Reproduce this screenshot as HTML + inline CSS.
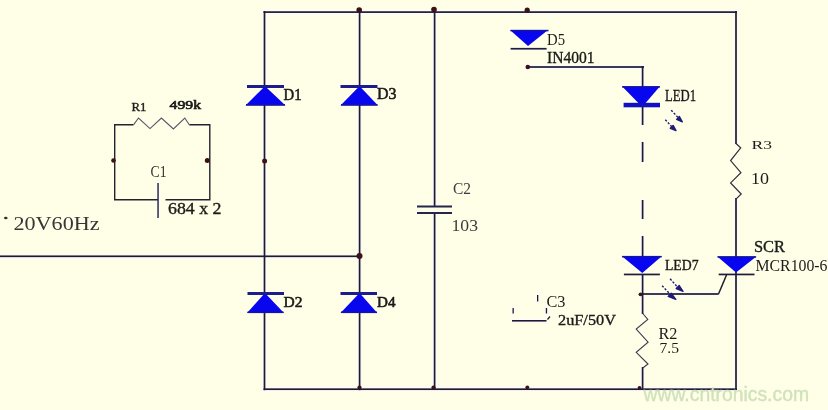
<!DOCTYPE html>
<html>
<head>
<meta charset="utf-8">
<style>
html,body{margin:0;padding:0;background:#fffee6;}
body{width:828px;height:410px;overflow:hidden;position:relative;}
svg{position:absolute;left:0;top:0;display:block;will-change:transform;}
text{font-family:"Liberation Serif",serif;fill:#1c1c1c;}
.hv{stroke:#161616;stroke-width:0.35;}
.w{fill:#1f1a34;}
.tw{stroke:#24222e;stroke-width:1.4;fill:none;}
.zz{stroke:#55556a;stroke-width:1.1;fill:none;}
.dio{fill:#0806ee;}
.bar{fill:#1c1c8c;}
.dot{fill:#3a1218;}
.wm{font-family:"Liberation Sans",sans-serif;fill:#d0e2bb;stroke:#d0e2bb;stroke-width:0.35;}
</style>
</head>
<body>
<svg width="828" height="410" viewBox="0 0 828 410">
<!-- halos -->
<g fill="#fdfcf4">
<rect x="261.8" y="9.4" width="476.9" height="5.4"/>
<rect x="261.8" y="386.5" width="476.9" height="5.4"/>
<rect x="261.8" y="9.3" width="5.4" height="382.6"/>
<rect x="356.9" y="9.3" width="5.4" height="382.6"/>
<rect x="431.9" y="9.3" width="5.4" height="198.4"/>
<rect x="431.9" y="211.3" width="5.4" height="180.4"/>
<rect x="733.3" y="9.3" width="5.4" height="136.4"/>
<rect x="733.3" y="196.3" width="5.4" height="195.4"/>
<rect x="-1.7" y="253.6" width="363.4" height="5.4"/>
<rect x="525.3" y="64.3" width="120.4" height="5.4"/>
<rect x="639.9" y="64.3" width="5.4" height="24.4"/>
<rect x="639.9" y="104.3" width="5.4" height="22.4"/>
<rect x="639.9" y="140.3" width="5.4" height="23.4"/>
<rect x="639.9" y="198.3" width="5.4" height="22.4"/>
<rect x="639.9" y="234.3" width="5.4" height="23.4"/>
<rect x="639.9" y="272.3" width="5.4" height="43.4"/>
<rect x="639.9" y="365.3" width="5.4" height="26.4"/>
<rect x="639.9" y="291.3" width="80.4" height="5.4"/>
<rect x="510.3" y="318.3" width="37.9" height="5.0"/>
<rect x="510.8" y="306.3" width="4.7" height="8.9"/>
<rect x="535.3" y="293.3" width="4.7" height="9.9"/>
<rect x="544.1" y="306.3" width="4.7" height="8.9"/>
</g>
<!-- main wires -->
<rect class="w" x="263.5" y="11.25" width="473.5" height="1.7"/>
<rect class="w" x="263.5" y="388.35" width="473.5" height="1.7"/>
<rect class="w" x="263.65" y="11" width="1.7" height="379.2"/>
<rect class="w" x="358.75" y="11" width="1.7" height="379.2"/>
<rect class="w" x="433.75" y="11" width="1.7" height="195"/>
<rect class="w" x="433.75" y="213" width="1.7" height="177"/>
<rect class="w" x="735.15" y="11" width="1.7" height="133"/>
<rect class="w" x="735.15" y="198" width="1.7" height="192"/>
<rect class="w" x="0" y="255.45" width="360" height="1.7"/>
<!-- D5 wire -->
<rect class="w" x="527" y="66.15" width="117" height="1.7"/>
<rect class="w" x="641.75" y="66" width="1.7" height="21"/>
<!-- dashed LED chain -->
<rect class="w" x="641.75" y="106" width="1.7" height="19"/>
<rect class="w" x="641.75" y="142" width="1.7" height="20"/>
<rect class="w" x="641.75" y="200" width="1.7" height="19"/>
<rect class="w" x="641.75" y="236" width="1.7" height="20"/>
<!-- below LED7 -->
<rect class="w" x="641.75" y="274" width="1.7" height="40"/>
<rect class="w" x="641.75" y="367" width="1.7" height="23"/>
<!-- gate -->
<rect class="w" x="641.6" y="293.15" width="77" height="1.7"/>
<path d="M718.5 294 L726.5 275" stroke="#1e1a30" stroke-width="1.5" fill="none"/>

<!-- C2 plates -->
<rect x="417" y="205.5" width="35" height="2" fill="#27254f"/>
<rect x="417" y="212" width="35" height="2" fill="#27254f"/>

<!-- R1/C1 loop -->
<path class="tw" d="M114.7 160 L114.7 124.8 L133.5 124.8 M189.3 124.8 L209.8 124.8 L209.8 199.8 L165.5 199.8 M158 199.8 L114.7 199.8 L114.7 160"/>
<path class="zz" d="M133.5 124.8 L138.5 118 L150 128.6 L161.4 118 L173.4 129 L184.8 118 L189.3 124.8"/>
<rect x="157.3" y="183" width="1.5" height="35" fill="#2c2c60"/>

<!-- R3 -->
<path d="M736 143.5 L740.7 147.8 L730.6 160.6 L740.9 172.6 L730.6 182.9 L741.2 194 L736 199.1" stroke="#2e2c40" stroke-width="1.2" fill="none"/>
<!-- R2 -->
<path d="M642.8 313.5 L647.8 319.5 L636.2 329 L648.1 342.2 L636.2 352.4 L648 364 L642.8 368" stroke="#3a3850" stroke-width="1.1" fill="none"/>

<!-- Diodes D1 D3 (up) -->
<rect class="bar" x="247" y="85" width="37" height="3"/>
<path class="dio" d="M263.6 87.5 L266.4 87.5 L285.5 105.5 L245.5 105.5 Z"/>
<rect class="bar" x="340.5" y="85" width="37" height="3"/>
<path class="dio" d="M358.1 87.5 L360.9 87.5 L378 105.5 L340.5 105.5 Z"/>
<!-- D2 D4 -->
<rect class="bar" x="247.5" y="292" width="36.5" height="3"/>
<path class="dio" d="M263.6 294.5 L266.4 294.5 L284 313 L247 313 Z"/>
<rect class="bar" x="340.5" y="292" width="36.5" height="3"/>
<path class="dio" d="M358.1 294.5 L360.9 294.5 L377.3 313 L340.5 313 Z"/>
<!-- D5 (down) -->
<path class="dio" d="M510 30 L548 30 L528 46 Z"/>
<rect x="510.6" y="47.9" width="36" height="1.7" fill="#1e1c4a"/>
<!-- LED1 -->
<path class="dio" d="M622 86.3 L660 86.3 L645.6 103 L638.4 103 Z"/>
<rect x="623.6" y="102.8" width="36.4" height="4.5" fill="#1010c0"/>
<!-- LED7 -->
<path class="dio" d="M621.7 256 L662 256 L642.3 273 Z"/>
<rect x="623.9" y="273.6" width="36" height="1.7" fill="#1e1c3a"/>
<!-- SCR -->
<path class="dio" d="M717.3 256.4 L756.4 256.4 L736 272.5 Z"/>
<rect x="718.7" y="273.6" width="35.8" height="1.7" fill="#1e1c3a"/>

<g fill="#1313a6">
<rect x="246" y="104" width="39" height="1.6"/>
<rect x="341" y="104" width="36.5" height="1.6"/>
<rect x="247.5" y="311.5" width="36" height="1.6"/>
<rect x="341" y="311.5" width="36" height="1.6"/>
<rect x="510.5" y="29.8" width="38" height="1.5"/>
<rect x="622" y="86.2" width="38" height="1.4"/>
<rect x="622" y="255.9" width="39.7" height="1.5"/>
<rect x="717.5" y="256.2" width="38.6" height="1.5"/>
</g>
<!-- LED arrows -->
<g stroke="#1e1c78" stroke-width="1.4" fill="#1e1c78" stroke-linejoin="round">
<path d="M671.2 110.2 L678.5 118" stroke-dasharray="2.2 1.6"/><path d="M682.3 121.8 L676.6 119.4 L679.4 116.6 Z"/>
<path d="M665.3 119.7 L672.3 127.4" stroke-dasharray="2.2 1.6"/><path d="M676 130.6 L670.3 128.3 L673.1 125.4 Z"/>
<path d="M670.1 278.8 L677.6 287.2" stroke-dasharray="2.2 1.6"/><path d="M683 291.3 L676.2 288.6 L679.2 285.6 Z"/>
<path d="M662.1 285.7 L669.5 293.6" stroke-dasharray="2.2 1.6"/><path d="M675.8 299.4 L668.2 296.4 L671.3 293.3 Z"/>
</g>

<!-- junction dots -->
<circle class="dot" cx="359.2" cy="10" r="2.8"/>
<circle class="dot" cx="434" cy="9.5" r="2.8"/>
<circle class="dot" cx="527.2" cy="10.2" r="2.6"/>
<circle class="dot" cx="264.6" cy="161" r="2.5"/>
<circle class="dot" cx="359.5" cy="256" r="3"/>
<circle class="dot" cx="113.5" cy="160.5" r="2.3"/>
<circle class="dot" cx="207.3" cy="160.5" r="2.5"/>
<circle class="dot" cx="527.8" cy="67" r="2.3"/>
<circle class="dot" cx="359.5" cy="387.5" r="2.1"/>
<circle class="dot" cx="433.5" cy="387.5" r="2.1"/>
<circle class="dot" cx="527.3" cy="387.3" r="1.9"/>
<circle class="dot" cx="639.5" cy="387.8" r="1.9"/>
<circle class="dot" cx="640.5" cy="294.3" r="1.9"/>

<!-- C3 pieces -->
<rect class="w" x="512" y="320" width="34.5" height="1.6"/>
<rect class="w" x="512.5" y="308" width="1.3" height="5.5"/>
<rect class="w" x="537" y="295" width="1.3" height="6.5"/>
<rect class="w" x="545.8" y="308" width="1.3" height="5.5"/>
<path d="M547.5 319.5 L550 316.5" stroke="#1e1a30" stroke-width="1.2"/>

<!-- labels -->
<text x="283.50" y="99.50" font-size="16.13" textLength="18.00" lengthAdjust="spacingAndGlyphs" class="hv" style="stroke-width:0.55">D1</text>
<text x="377.00" y="99.00" font-size="16.86" textLength="19.50" lengthAdjust="spacingAndGlyphs" class="hv" style="stroke-width:0.55">D3</text>
<text x="283.50" y="307.00" font-size="15.23" textLength="19.00" lengthAdjust="spacingAndGlyphs" class="hv" style="stroke-width:0.55">D2</text>
<text x="377.00" y="307.00" font-size="15.23" textLength="18.50" lengthAdjust="spacingAndGlyphs" class="hv" style="stroke-width:0.55">D4</text>
<text x="131.50" y="111.00" font-size="13.18" textLength="15.00" lengthAdjust="spacingAndGlyphs" style="stroke:#1c1c1c;stroke-width:0.35">R1</text>
<text x="169.50" y="109.00" font-size="12.8" textLength="31.50" lengthAdjust="spacingAndGlyphs" style="stroke:#161616;stroke-width:0.6">499k</text>
<text x="150.50" y="177.00" font-size="16.67" textLength="16.00" lengthAdjust="spacingAndGlyphs" style="fill:#333;stroke:none">C1</text>
<text x="168.00" y="214.00" font-size="16.67" textLength="53.50" lengthAdjust="spacingAndGlyphs" class="hv">684 x 2</text>
<text x="13.50" y="230.00" font-size="19.74" textLength="86.00" lengthAdjust="spacingAndGlyphs" style="fill:#363636;stroke:none">20V60Hz</text>
<text x="453.00" y="194.00" font-size="16.67" textLength="18.00" lengthAdjust="spacingAndGlyphs" style="fill:#3c3c3c;stroke:none">C2</text>
<text x="451.50" y="231.00" font-size="16.67" textLength="26.50" lengthAdjust="spacingAndGlyphs" style="fill:#3c3c3c;stroke:none">103</text>
<text x="547.00" y="45.00" font-size="15.98" textLength="18.00" lengthAdjust="spacingAndGlyphs">D5</text>
<text x="547.00" y="62.50" font-size="16.67" textLength="47.50" lengthAdjust="spacingAndGlyphs" class="hv">IN4001</text>
<text x="665.00" y="101.00" font-size="16.67" textLength="31.00" lengthAdjust="spacingAndGlyphs" class="hv">LED1</text>
<text x="665.00" y="270.00" font-size="14.04" textLength="33.50" lengthAdjust="spacingAndGlyphs" class="hv">LED7</text>
<text x="754.00" y="252.00" font-size="15.97" textLength="31.00" lengthAdjust="spacingAndGlyphs" class="hv">SCR</text>
<text x="755.50" y="270.50" font-size="16.26" textLength="72.00" lengthAdjust="spacingAndGlyphs">MCR100-6</text>
<text x="751.50" y="148.50" font-size="13.13" textLength="20.50" lengthAdjust="spacingAndGlyphs">R3</text>
<text x="751.00" y="184.00" font-size="15.98" textLength="18.00" lengthAdjust="spacingAndGlyphs">10</text>
<text x="658.50" y="338.50" font-size="16.26" textLength="19.00" lengthAdjust="spacingAndGlyphs">R2</text>
<text x="659.50" y="352.70" font-size="14.3" textLength="19.50" lengthAdjust="spacingAndGlyphs">7.5</text>
<text x="546.50" y="306.50" font-size="15.80" textLength="19.00" lengthAdjust="spacingAndGlyphs">C3</text>
<text x="558.00" y="324.50" font-size="15.21" textLength="58.00" lengthAdjust="spacingAndGlyphs" class="hv">2uF/50V</text>
<ellipse cx="5.8" cy="218" rx="1.8" ry="1.2" fill="#303030"/>

<!-- watermark -->
<text class="wm" x="643.5" y="400.7" font-size="19.35">www.cntronics.com</text>
</svg>
</body>
</html>
